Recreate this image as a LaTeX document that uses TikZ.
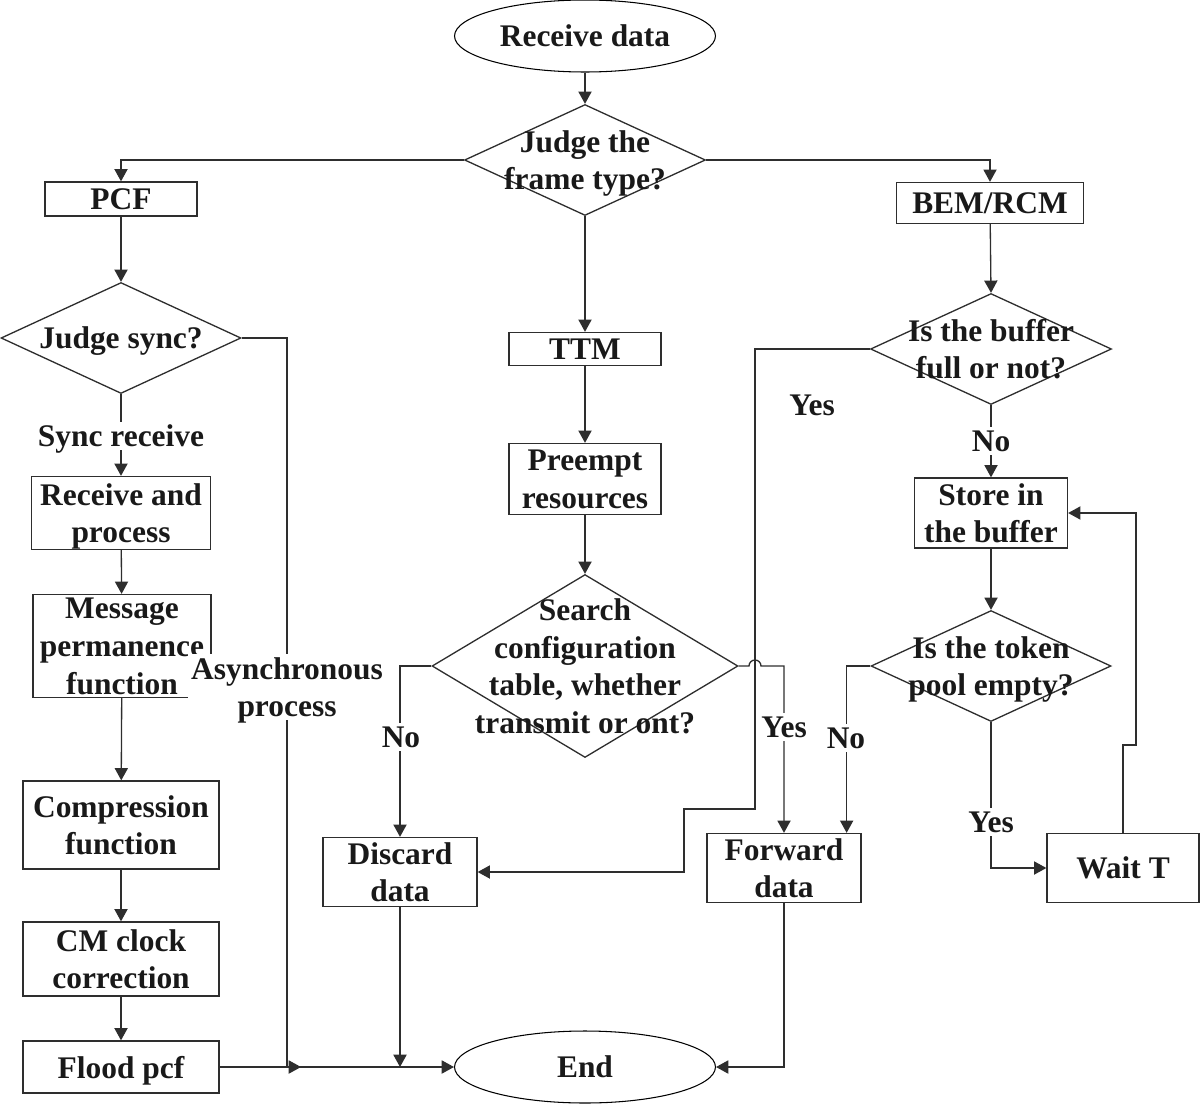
\documentclass[tikz,border=0pt]{standalone}
\usepackage{fontspec}
\setmainfont{Liberation Serif}
\usetikzlibrary{arrows.meta,shapes.geometric,calc}
\definecolor{lineGray}{HTML}{2e2e2e}
\tikzset{
  arr/.style={-{Triangle[length=7pt,width=7.5pt]}, line width=0.75pt, lineGray},
  ln/.style={line width=0.75pt, lineGray},
  txt/.style={font=\fontsize{17.9}{21.5}\selectfont\bfseries, align=center, inner sep=1pt,
    text depth=0pt, text=black!90},
  boxn/.style={draw=lineGray, line width=0.75pt, rectangle, txt, minimum width=#1},
  dia/.style={draw=lineGray, line width=0.75pt, diamond, inner sep=0pt,
    minimum width=4.82cm, minimum height=2.22cm},
  term/.style={draw=black, line width=0.6pt, ellipse, txt, inner sep=0pt,
    minimum width=5.22cm, minimum height=1.44cm},
  lbl/.style={txt, fill=white, inner sep=2pt}
}
\begin{document}
\begin{tikzpicture}[x=0.02cm,y=-0.02cm]
  \useasboundingbox (0,0) rectangle (1200,1112);
  % terminals
  \node[term] (start) at (585,36) {Receive data};
  \node[term] (stop) at (585,1067) {End};
  % frame type
  \node[dia, label={[txt]center:Judge the\\frame type?}] (frame) at (585,160) {};
  \node[boxn=3.04cm, minimum height=0.68cm] (pcf) at (121,199) {PCF};
  \node[boxn=3.74cm, minimum height=0.82cm] (bem) at (990,203) {BEM/RCM};
  \node[boxn=3.04cm, minimum height=0.66cm] (ttm) at (585,349) {TTM};
  % left column
  \node[dia, minimum width=4.8cm, label={[txt]center:Judge sync?}] (sync) at (121,338) {};
  \node[boxn=3.58cm, minimum height=1.46cm] (recv) at (121,513) {Receive and\\process};
  \node[boxn=3.56cm, minimum height=2.06cm] (perm) at (122,646) {Message\\permanence\\function};
  \node[boxn=3.92cm, minimum height=1.76cm] (comp) at (121,825) {Compression\\function};
  \node[boxn=3.92cm, minimum height=1.48cm] (clock) at (121,959) {CM clock\\correction};
  \node[boxn=3.92cm, minimum height=1.04cm] (flood) at (121,1067) {Flood pcf};
  % middle column
  \node[boxn=3.04cm, minimum height=1.42cm] (preempt) at (585,479) {Preempt\\resources};
  \node[dia, minimum width=6.12cm, minimum height=3.66cm,
    label={[txt]center:Search\\configuration\\table, whether\\transmit or ont?}] (search) at (585,666) {};
  \node[boxn=3.08cm, minimum height=1.38cm] (discard) at (400,872) {Discard\\data};
  \node[boxn=3.08cm, minimum height=1.38cm] (fwd) at (784,868) {Forward\\data};
  % right column
  \node[dia, label={[txt]center:Is the buffer\\full or not?}] (buffer) at (991,349) {};
  \node[boxn=3.06cm, minimum height=1.4cm] (store) at (991,513) {Store in\\the buffer};
  \node[dia, minimum width=4.8cm, label={[txt]center:Is the token\\pool empty?}] (token) at (991,666) {};
  \node[boxn=3.04cm, minimum height=1.38cm] (wait) at (1123,868) {Wait T};

  \coordinate (asyncjoin) at (287,1067);
  \coordinate (hop) at (749,666);

  % connectors
  \draw[arr] (start) -- (frame.north);
  \draw[arr] (frame.west) -| (pcf.north);
  \draw[arr] (frame.east) -| (bem.north);
  \draw[arr] (frame.south) -- (ttm.north);
  \draw[arr] (pcf) -- (sync.north);
  \draw[arr] (sync.south) -- (recv.north);
  \draw[arr] (recv) -- (perm);
  \draw[arr] (perm) -- (comp);
  \draw[arr] (comp) -- (clock);
  \draw[arr] (clock) -- (flood);
  \draw[arr] (flood) -- (stop.west);
  \draw[arr] (sync.east) -| (asyncjoin) -- ++(14,0);
  \draw[arr] (ttm) -- (preempt);
  \draw[arr] (preempt) -- (search.north);
  \draw[arr] (search.west) -| (discard.north);
  \draw[arr] (search.east) -- (hop) arc (180:360:6) -| (fwd.north);
  \draw[arr] (discard.south) -- (discard.south |- stop.west);
  \draw[arr] (fwd.south) |- (stop.east);
  \draw[arr] (bem) -- (buffer.north);
  \draw[arr] (buffer.west) -- (755,349) -- (755,809) -- (684,809) |- (discard.east);
  \draw[arr] (buffer.south) -- (store.north);
  \draw[arr] (store) -- (token.north);
  \draw[arr] (token.west) -| ($(fwd.north east)+(-15,0)$);
  \draw[arr] (token.south) |- (wait.west);
  \draw[arr] (wait.north) -- (1123,745) -- (1136,745) |- (store.east);

  % branch labels
  \node[lbl] (syncrx) at (121,436) {Sync receive};
  \node[lbl] (async) at (287,687) {Asynchronous\\process};
  \node[lbl] (srchno) at (401,737) {No};
  \node[lbl] (srchyes) at (784,727) {Yes};
  \node[txt] (bufyes) at (812,405) {Yes};
  \node[lbl] (bufno) at (991,441) {No};
  \node[lbl] (tokno) at (846,738) {No};
  \node[lbl] (tokyes) at (991,822) {Yes};
\end{tikzpicture}
\end{document}
